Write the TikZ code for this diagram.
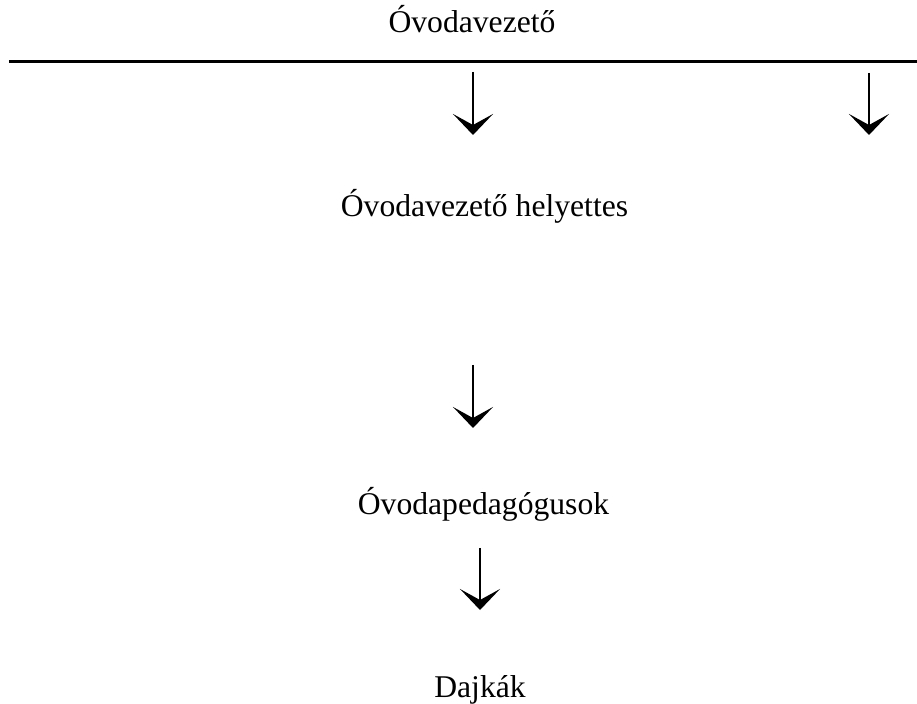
\documentclass[tikz,border=0pt]{standalone}
\usepackage{fontspec}
\setmainfont{Liberation Serif}
\usetikzlibrary{arrows.meta}

\begin{document}
\begin{tikzpicture}[nyil/.style={line width=1.6pt,-{Stealth[length=0.42cm,width=0.8cm,inset=0.22cm]}},
  szoveg/.style={anchor=base,inner sep=0pt,font=\fontsize{18}{21.6}\selectfont}]
\useasboundingbox (0,0) rectangle (18.34,14.06);

\node[szoveg] (vezeto) at (9.44,13.40) {Óvodavezető};
\node[szoveg] (helyettes) at (9.69,9.72) {Óvodavezető helyettes};
\node[szoveg] (pedagogus) at (9.67,3.76) {Óvodapedagógusok};
\node[szoveg] (dajka) at (9.60,0.12) {Dajkák};

\coordinate (v1) at (0.18,12.82);
\coordinate (v2) at (18.34,12.82);
\draw[line width=1.7pt] (v1) -- (v2);

\coordinate (a1) at (9.46,12.62);
\coordinate (b1) at (9.46,11.36);
\coordinate (a2) at (17.38,12.60);
\coordinate (b2) at (17.38,11.36);
\coordinate (a3) at (9.46,6.76);
\coordinate (b3) at (9.46,5.50);
\coordinate (a4) at (9.60,3.10);
\coordinate (b4) at (9.60,1.86);

\draw[nyil] (a1) -- (b1);
\draw[nyil] (a2) -- (b2);
\draw[nyil] (a3) -- (b3);
\draw[nyil] (a4) -- (b4);
\end{tikzpicture}
\end{document}
